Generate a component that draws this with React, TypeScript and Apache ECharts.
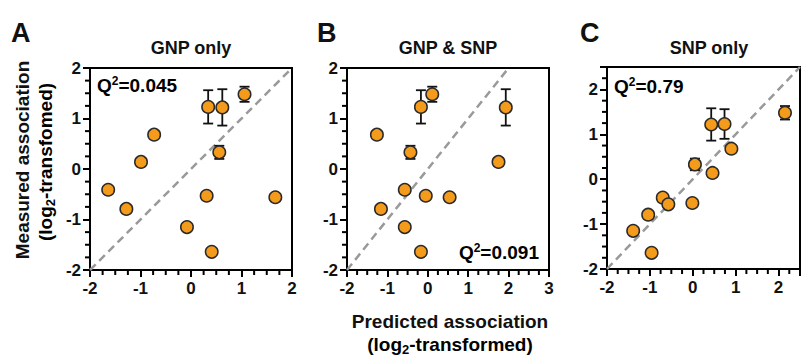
import React, { useEffect, useRef } from 'react';
import * as echarts from 'echarts';

// Measured association (log2) for the 12 items, shared across panels
const measured = [-0.41, -0.79, 0.14, 0.68, -1.15, -0.53, 1.23, -1.64, 0.33, 1.22, 1.48, -0.56];
const measuredErr = [0, 0, 0.08, 0, 0, 0, 0.33, 0, 0.13, 0.36, 0.15, 0];
// Predicted association per model
const predGNP = [-1.64, -1.28, -0.99, -0.73, -0.08, 0.31, 0.34, 0.41, 0.56, 0.62, 1.06, 1.67];
const predGNPSNP = [-0.57, -1.16, 1.75, -1.26, -0.57, -0.05, -0.17, -0.17, -0.43, 1.93, 0.11, 0.54];
const predSNP = [-0.7, -1.04, 0.46, 0.9, -1.39, -0.01, 0.74, -0.96, 0.05, 0.43, 2.15, -0.57];

const panelLetters = ['A', 'B', 'C'];
const panelTitles = ['GNP only', 'GNP & SNP', 'SNP only'];
const q2Values = ['0.045', '0.091', '0.79'];
const xRanges = [[-2, 2], [-2, 3], [-2, 2.5]];
const yRanges = [[-2, 2], [-2, 2], [-2, 2.5]];
const minorStep = 0.25;

const FONT = '"Liberation Sans", Arial, Helvetica, sans-serif';

function minorTicks(r: number[]) {
  const out: number[] = [];
  const n = Math.round((r[1] - r[0]) / minorStep);
  for (let k = 1; k <= n; k++) {
    const v = r[0] + k * minorStep;
    if (Math.abs(v - Math.round(v)) > 1e-6) out.push(v);
  }
  return out;
}

export default function App() {
  const ref = useRef<HTMLDivElement>(null);
  useEffect(() => {
    if (!ref.current) return;
    const chart = echarts.init(ref.current, undefined, { renderer: 'svg' });
    const preds = [predGNP, predGNPSNP, predSNP];
    const gridPos = [
      { left: 90, top: 68 },
      { left: 347, top: 68 },
      { left: 607, top: 67 },
    ];
    const size = 202;
    const grids = gridPos.map((g) => ({
      left: g.left, top: g.top, width: size, height: size,
      show: true, borderColor: '#000', borderWidth: 2, backgroundColor: 'transparent', z: 0,
    }));
    const intLabel = (v: number) => (Number.isInteger(v) ? String(v) : '');
    const xAxes: any[] = [];
    const yAxes: any[] = [];
    const lineSt = { show: true, onZero: false, lineStyle: { color: '#000', width: 2 } };
    gridPos.forEach((_, i) => {
      const common = { type: 'value', gridIndex: i, splitLine: { show: false } };
      xAxes.push({
        ...common, position: 'bottom', min: xRanges[i][0], max: xRanges[i][1], interval: 1,
        axisLine: lineSt,
        axisTick: { show: true, length: 7, lineStyle: { color: '#000', width: 2 } },
        axisLabel: { formatter: intLabel, fontSize: 17, fontWeight: 'bold', color: '#111', margin: 10, fontFamily: FONT },
      });
      yAxes.push({
        ...common, position: 'left', min: yRanges[i][0], max: yRanges[i][1], interval: 1,
        axisLine: lineSt,
        axisTick: { show: true, length: 7, lineStyle: { color: '#000', width: 2 } },
        axisLabel: { formatter: intLabel, fontSize: 17, fontWeight: 'bold', color: '#111', margin: 9, fontFamily: FONT },
      });
    });

    const series: any[] = [];
    preds.forEach((pred, i) => {
      const top = Math.min(xRanges[i][1], yRanges[i][1]);
      const xm = minorTicks(xRanges[i]);
      const ym = minorTicks(yRanges[i]);
      // minor ticks along both axes
      series.push({
        type: 'custom', xAxisIndex: i, yAxisIndex: i, silent: true, z: 5,
        encode: { x: 0, y: 1 },
        data: [
          ...xm.map((v) => [v, yRanges[i][0], 0]),
          ...ym.map((v) => [xRanges[i][0], v, 1]),
        ],
        renderItem: (params: any, api: any) => {
          const p = api.coord([api.value(0), api.value(1)]);
          const isY = api.value(2) === 1;
          const shape = isY
            ? { x1: p[0] - 5, y1: p[1], x2: p[0], y2: p[1] }
            : { x1: p[0], y1: p[1], x2: p[0], y2: p[1] + 5 };
          return { type: 'line', shape, style: { stroke: '#000', lineWidth: 2 } };
        },
      });
      series.push({
        type: 'line', xAxisIndex: i, yAxisIndex: i, silent: true,
        data: [[xRanges[i][0], yRanges[i][0]], [top, top]],
        showSymbol: false, symbol: 'none', z: 1,
        lineStyle: { color: '#9a9a9a', width: 2.5, type: [8, 5] },
      });
      const errData = pred
        .map((p, k) => [p, measured[k] - measuredErr[k], measured[k] + measuredErr[k], measuredErr[k]])
        .filter((d) => d[3] > 0);
      series.push({
        type: 'custom', xAxisIndex: i, yAxisIndex: i, silent: true, z: 2,
        encode: { x: 0, y: [1, 2] },
        data: errData,
        renderItem: (params: any, api: any) => {
          const x = api.value(0);
          const lo = api.coord([x, api.value(1)]);
          const hi = api.coord([x, api.value(2)]);
          const w = 5;
          const st = { stroke: '#111', lineWidth: 1.8 };
          return {
            type: 'group',
            children: [
              { type: 'line', shape: { x1: hi[0], y1: hi[1], x2: lo[0], y2: lo[1] }, style: st },
              { type: 'line', shape: { x1: hi[0] - w, y1: hi[1], x2: hi[0] + w, y2: hi[1] }, style: st },
              { type: 'line', shape: { x1: lo[0] - w, y1: lo[1], x2: lo[0] + w, y2: lo[1] }, style: st },
            ],
          };
        },
      });
      series.push({
        type: 'scatter', xAxisIndex: i, yAxisIndex: i, silent: true, z: 3,
        data: pred.map((p, k) => [p, measured[k]]),
        symbol: 'circle', symbolSize: 12.5,
        itemStyle: { color: '#F59B1C', borderColor: '#2a2a2a', borderWidth: 1.5, opacity: 1 },
      });
    });

    const txt = (x: number, y: number, text: string, fontSize: number, align = 'center', extra: any = {}) => ({
      type: 'text', x, y, z: 10, silent: true, ...extra,
      style: {
        text, fontSize, fontWeight: 'bold', fontFamily: FONT, fill: '#111',
        align, verticalAlign: 'middle',
      },
    });
    const richQ = {
      q: { fontSize: 19, fontWeight: 'bold', fontFamily: FONT, color: '#111', lineHeight: 21 },
      s: { fontSize: 12, fontWeight: 'bold', fontFamily: FONT, color: '#111', verticalAlign: 'top', lineHeight: 21 },
    };
    const richSub = {
      a: { fontSize: 19, fontWeight: 'bold', fontFamily: FONT, color: '#111', lineHeight: 23 },
      b: { fontSize: 13, fontWeight: 'bold', fontFamily: FONT, color: '#111', verticalAlign: 'bottom', lineHeight: 23 },
    };
    const titleCenters = [191, 448, 709];
    const letterX = [11, 317, 580];
    const graphics: any[] = [];
    panelLetters.forEach((l, i) => {
      graphics.push(txt(letterX[i], 33, l, 27, 'left'));
      graphics.push(txt(titleCenters[i], 48, panelTitles[i], 18));
    });
    const q2Pos = [
      { x: 97, y: 85, align: 'left' },
      { x: 539, y: 252, align: 'right' },
      { x: 614, y: 86, align: 'left' },
    ];
    q2Pos.forEach((p, i) => {
      graphics.push({
        type: 'text', x: p.x, y: p.y, z: 10, silent: true,
        style: { text: `{q|Q}{s|2}{q|=${q2Values[i]}}`, rich: richQ, align: p.align, verticalAlign: 'middle' },
      });
    });
    // Y axis title (panel A)
    graphics.push(txt(22, 160, 'Measured association', 19, 'center', { rotation: Math.PI / 2 }));
    graphics.push({
      type: 'text', x: 45, y: 162, z: 10, silent: true, rotation: Math.PI / 2,
      style: { text: '{a|(log}{b|2}{a|-transfomed)}', rich: richSub, align: 'center', verticalAlign: 'middle' },
    });
    // X axis title (under panel B)
    graphics.push(txt(450, 321, 'Predicted association', 19));
    graphics.push({
      type: 'text', x: 450, y: 344, z: 10, silent: true,
      style: { text: '{a|(log}{b|2}{a|-transformed)}', rich: richSub, align: 'center', verticalAlign: 'middle' },
    });

    chart.setOption({
      animation: false,
      backgroundColor: '#fff',
      grid: grids,
      xAxis: xAxes,
      yAxis: yAxes,
      series,
      graphic: graphics,
    });
    return () => chart.dispose();
  }, []);
  return <div ref={ref} style={{ position: 'fixed', left: 0, top: 0, width: 803, height: 355 }} />;
}
